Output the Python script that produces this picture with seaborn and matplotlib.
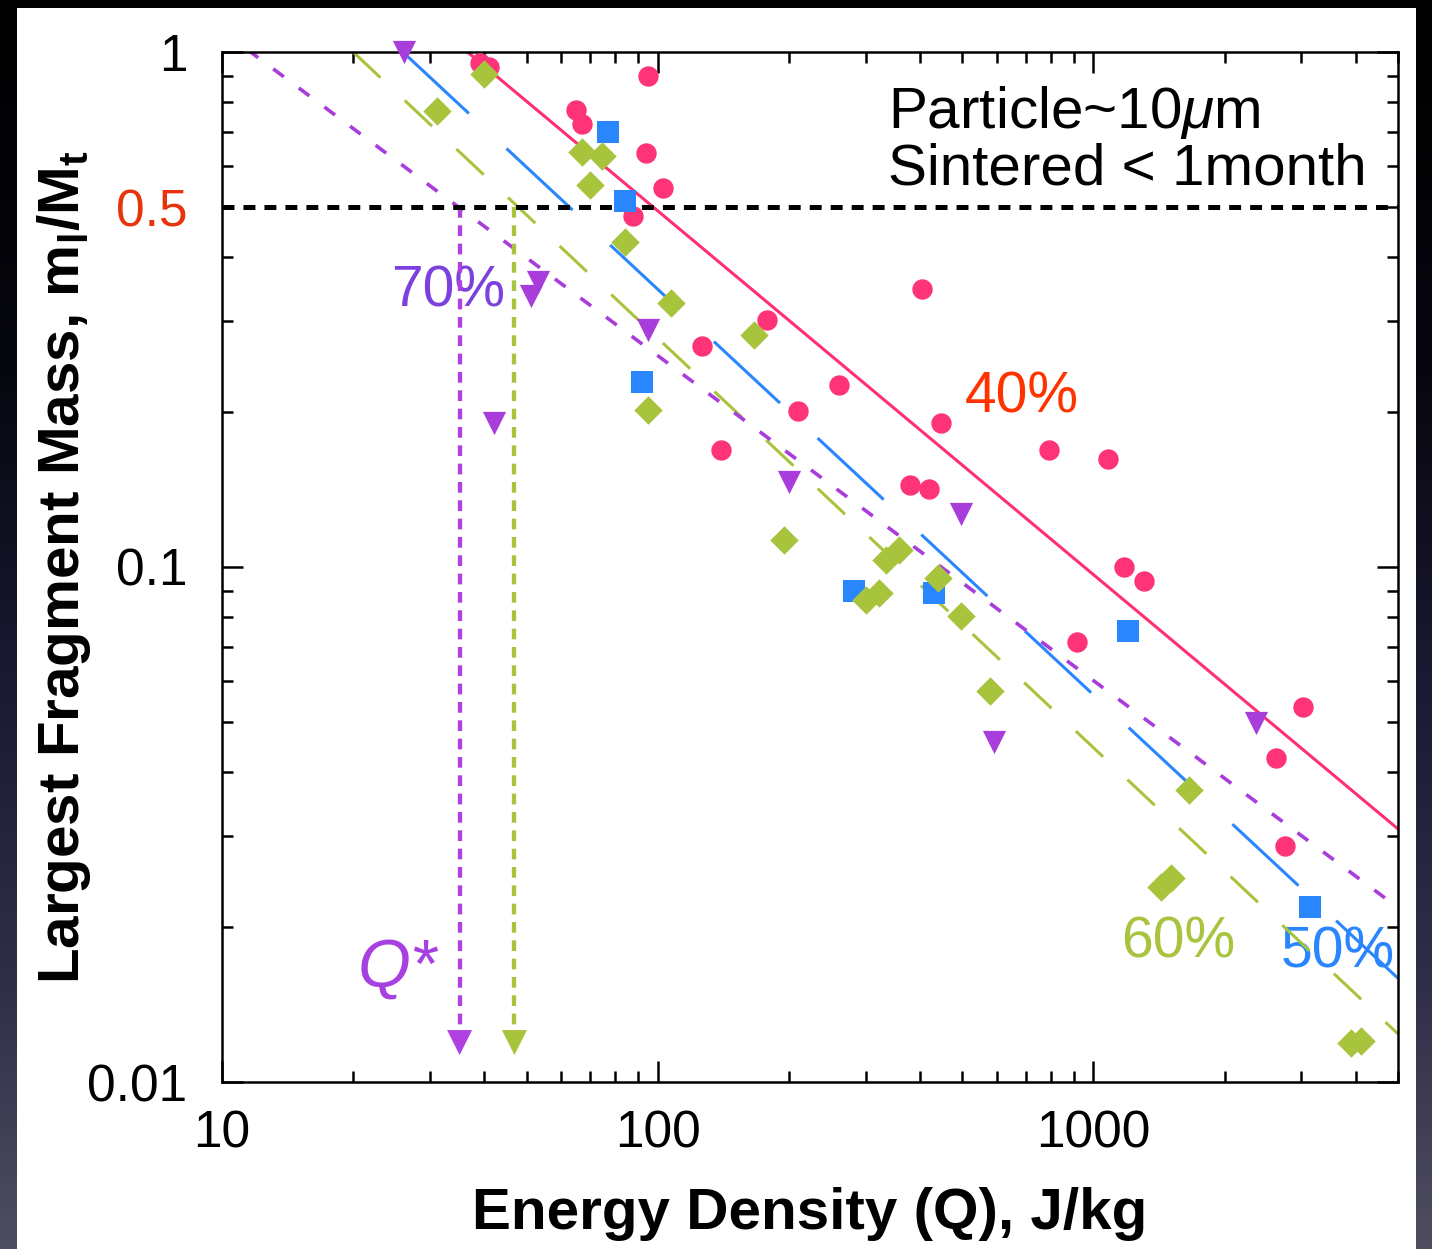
import numpy as np
import matplotlib
matplotlib.use("Agg")
import matplotlib.pyplot as plt
import matplotlib.transforms as mtransforms
from matplotlib.colors import LinearSegmentedColormap
from matplotlib.patches import Rectangle
from matplotlib.ticker import LogLocator, NullFormatter
import seaborn as sns

# ---------------- data ----------------
# 40% porosity (red circles)
red_q = [39.0, 41.1, 95.1, 65.1, 67.1, 94.1, 103, 87.9, 404, 178, 126.5, 260.5,
         210, 446, 140, 379, 419, 789, 1082, 1178, 1309, 919, 3028, 2626, 2754]
red_m = [0.952, 0.935, 0.898, 0.772, 0.725, 0.637, 0.544, 0.480, 0.347, 0.302, 0.269, 0.226,
         0.201, 0.190, 0.169, 0.144, 0.142, 0.169, 0.162, 0.100, 0.0939, 0.0715, 0.0535, 0.0426, 0.0287]
# 50% porosity (blue squares)
blue_q = [77.0, 84.2, 92.1, 282, 430, 1203, 3142]
blue_m = [0.699, 0.514, 0.229, 0.0898, 0.0890, 0.0751, 0.0219]
# 70% porosity (purple triangles)
purple_q = [26.1, 53.2, 51.3, 95.1, 42.2, 200, 496, 590, 2362]
purple_m = [1.0, 0.358, 0.336, 0.289, 0.190, 0.146, 0.127, 0.0457, 0.0498]
# 60% porosity (green diamonds)
green_q = [40.0, 31.1, 67.1, 74.6, 70.0, 84.2, 107.4, 95.1, 166.4, 194.9, 333.8,
           357.5, 300.3, 321.7, 439.2, 495.8, 577.8, 1659, 1431, 1509, 3900, 4112]
green_m = [0.906, 0.768, 0.639, 0.628, 0.552, 0.428, 0.326, 0.202, 0.282, 0.113, 0.103,
           0.108, 0.0863, 0.0890, 0.0952, 0.0803, 0.0574, 0.0369, 0.0239, 0.0249, 0.0119, 0.0120]

# power-law fit lines (end points)
fit_labels = ["40%", "50%", "60%", "70%"]
fit_q = [[36.6, 5000], [26.0, 5000], [20.0, 5000], [10.0, 5000]]
fit_m = [[1.0, 0.031], [1.0, 0.0159], [1.0, 0.0124], [1.1, 0.0218]]

# Q* arrows (70%, 60%)
qstar_q = [35.1, 46.9]
qstar_top = 0.5
qstar_tip = 0.01128

xticks = [10, 100, 1000]
xtick_labels = ["10", "100", "1000"]
yticks = [0.01, 0.1, 1]
ytick_labels = ["0.01", "0.1", "1"]

# ---------------- style ----------------
sns.set_style("ticks")
plt.rcParams.update({
    "font.family": ["Liberation Sans", "DejaVu Sans"],
    "mathtext.fontset": "custom",
    "mathtext.rm": "Liberation Sans",
    "mathtext.it": "Liberation Sans:italic",
    "mathtext.bf": "Liberation Sans:bold",
    "lines.scale_dashes": False,
    "axes.linewidth": 1.8,
    "axes.edgecolor": "black",
    "axes.labelcolor": "black",
    "xtick.color": "black",
    "ytick.color": "black",
    "xtick.labelcolor": "black",
    "ytick.labelcolor": "black",
    "text.color": "black",
})

RED = "#ff3377"
REDLINE = "#ff3070"
BLUE = "#2a86ff"
GREEN = "#a8c43c"
PURPLE = "#a83ddc"

W, H = 1432, 1249
fig = plt.figure(figsize=(W / 100, H / 100), dpi=100)
fig.patch.set_facecolor("black")

# background gradient
bg = fig.add_axes([0, 0, 1, 1], zorder=-10)
cmap = LinearSegmentedColormap.from_list(
    "bg", [(0, "#000000"), (0.3, "#07070f"), (0.55, "#1a1a33"), (0.8, "#313049"), (1, "#4e4e60")])
grad = np.linspace(0, 1, 256)[:, None]
bg.imshow(grad, aspect="auto", cmap=cmap, extent=[0, 1, 0, 1], origin="upper")
bg.set_axis_off()

fig.add_artist(Rectangle((17 / W, 0), (1416 - 17) / W, (H - 8) / H, transform=fig.transFigure,
                         facecolor="white", edgecolor="none", zorder=-5))

ax = fig.add_axes([222 / W, (H - 1082) / H, (1398 - 222) / W, (1082 - 52) / H])
ax.set_facecolor("white")
ax.set_xscale("log")
ax.set_yscale("log")

# fit lines
fit_style = {
    "40%": dict(color=REDLINE, lw=2.2, dashes=None),
    "50%": dict(color=BLUE, lw=2.2, dashes=(65, 37)),
    "60%": dict(color=GREEN, lw=2.2, dashes=(27, 24)),
    "70%": dict(color=PURPLE, lw=2.6, dashes=(9.5, 13.5)),
}
for lab, qs, ms in zip(fit_labels, fit_q, fit_m):
    st = fit_style[lab]
    sns.lineplot(x=qs, y=ms, ax=ax, color=st["color"], lw=st["lw"], estimator=None,
                 sort=False, zorder=2)
    if st["dashes"] is not None:
        ax.lines[-1].set_dashes(st["dashes"])

# 0.5 threshold
ax.axhline(0.5, color="black", lw=3.6, dashes=(8.6, 6.5), zorder=2.5)

# Q* arrows
for q, c in zip(qstar_q, ["#b040e0", GREEN]):
    ax.plot([q, q], [qstar_top, 0.0127], color=c, lw=3.1, dashes=(7.7, 5.5), zorder=2)
    ax.annotate("", xy=(q, qstar_tip), xytext=(q, 0.0135),
                arrowprops=dict(arrowstyle="-|>,head_length=0.9,head_width=0.45", color=c,
                                lw=0, shrinkA=0, shrinkB=0, mutation_scale=20), zorder=2)

# data points
sns.scatterplot(x=red_q, y=red_m, ax=ax, color=RED, marker="o", s=215, linewidth=0,
                zorder=3, clip_on=False)
sns.scatterplot(x=blue_q, y=blue_m, ax=ax, color=BLUE, marker="s", s=250, linewidth=0,
                zorder=3, clip_on=False)
sns.scatterplot(x=purple_q, y=purple_m, ax=ax, color=PURPLE, marker="v", s=280, linewidth=0,
                zorder=3, clip_on=False)
sns.scatterplot(x=green_q, y=green_m, ax=ax, color=GREEN, marker="D", s=210, linewidth=0,
                zorder=3, clip_on=False)

ax.set_xlim(10, 5000)
ax.set_ylim(0.01, 1)

# annotations
ax.text(0.566, 0.9262, r"Particle~10$\mu$m", transform=ax.transAxes, ha="left",
        va="baseline", fontsize=42, zorder=1.5)
ax.text(0.566, 0.8718, "Sintered < 1month", transform=ax.transAxes, ha="left",
        va="baseline", fontsize=42, zorder=1.5)
ax.text(24.5, 0.3212, "70%", color="#7b40dd", fontsize=41, ha="left", va="baseline", zorder=1.5)
ax.text(506, 0.1991, "40%", color="#ff3300", fontsize=41, ha="left", va="baseline", zorder=1.5)
ax.text(1160, 0.01741, "60%", color=GREEN, fontsize=41, ha="left", va="baseline", zorder=1.5)
ax.text(2696, 0.01665, "50%", color=BLUE, fontsize=41, ha="left", va="baseline", zorder=1.5)
ax.text(20.5, 0.01529, "Q*", color="#a640e0", fontsize=49, style="italic", ha="left",
        va="baseline", zorder=1.5)

# ticks
ax.set_xticks(xticks)
ax.set_xticklabels(xtick_labels)
ax.set_yticks(yticks)
ax.set_yticklabels(ytick_labels)
for axis in (ax.xaxis, ax.yaxis):
    axis.set_minor_locator(LogLocator(base=10, subs=np.arange(2, 10) * 1.0, numticks=20))
    axis.set_minor_formatter(NullFormatter())
ax.tick_params(which="both", direction="in", top=True, right=True, width=1.8, color="black",
               labelcolor="black")
ax.tick_params(which="major", length=15)
ax.tick_params(which="minor", length=8)
ax.tick_params(axis="x", which="major", pad=20, labelsize=37)
ax.tick_params(axis="y", which="major", pad=25, labelsize=37)
for sp in ax.spines.values():
    sp.set_color("black")
    sp.set_linewidth(1.8)

off = mtransforms.offset_copy(ax.get_yaxis_transform(), fig=fig, x=-25, y=0, units="points")
ax.text(0, 0.5, "0.5", transform=off, ha="right", va="center_baseline", fontsize=37,
        color="#e8340c")

ax.set_xlabel("Energy Density (Q), J/kg", fontsize=42, fontweight="bold", labelpad=20,
              color="black")
ax.set_ylabel(r"Largest Fragment Mass, $\mathbf{m_{l}/M_{t}}$", fontsize=42,
              fontweight="bold", labelpad=-4, color="black")

fig.savefig("out.png", dpi=100)
